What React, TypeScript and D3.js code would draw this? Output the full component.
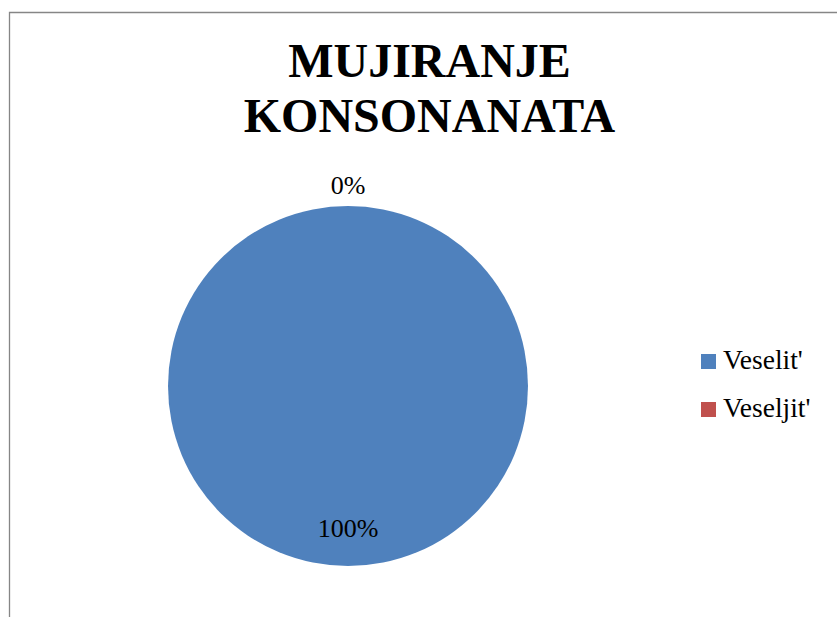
import React from "react";
import * as d3 from "d3";

const categories = ["Veselit'", "Veseljit'"];
const values = [100, 0];
const percentLabels = ["100%", "0%"];
const titleLines = ["MUJIRANJE", "KONSONANATA"];
const colors = ["#4F81BD", "#C0504D"];

export default function App() {
  const W = 837, H = 617;
  const cx = 348, cy = 386, r = 180;
  const pie = d3.pie<number>().sort(null).startAngle(0).endAngle(2 * Math.PI);
  const arcs = pie(values);
  const arcGen = d3.arc<d3.PieArcDatum<number>>().innerRadius(0).outerRadius(r);
  const font = "'Liberation Serif', 'Times New Roman', serif";
  const labelPos = (i: number) => {
    const a = arcs[i];
    const mid = (a.startAngle + a.endAngle) / 2;
    if (a.endAngle - a.startAngle < 1e-6) {
      return [cx + Math.sin(mid) * (r + 21), cy - Math.cos(mid) * (r + 21)];
    }
    return [cx + Math.sin(mid) * (r * 0.79), cy - Math.cos(mid) * (r * 0.79)];
  };
  return (
    <svg width={W} height={H} style={{ position: "absolute", left: 0, top: 0, display: "block" }}>
      <rect x={0} y={0} width={W} height={H} fill="#fff" />
      <path d={`M9.5,${H} L9.5,12.5 L${W},12.5`} fill="none" stroke="#868686" strokeWidth={1.3} />
      {titleLines.map((t, i) => (
        <text key={t} x={429.5} y={77 + i * 55} textAnchor="middle" fontFamily={font}
          fontWeight="bold" fontSize={48} fill="#000">{t}</text>
      ))}
      <g>
        {arcs.map((a, i) => (
          a.endAngle - a.startAngle > 1e-6 ? (
            <path key={i} d={arcGen(a) || ""} transform={`translate(${cx},${cy})`} fill={colors[i]} />
          ) : null
        ))}
      </g>
      {arcs.map((a, i) => {
        const [x, y] = labelPos(i);
        return (
          <text key={"l" + i} x={x} y={y} textAnchor="middle" dominantBaseline="central"
            fontFamily={font} fontSize={26} fill="#000">{percentLabels[i]}</text>
        );
      })}
      {categories.map((c, i) => (
        <g key={c} transform={`translate(701,${354 + i * 48})`}>
          <rect x={0} y={0} width={15} height={15} fill={colors[i]} />
          <text x={22} y={15} fontFamily={font} fontSize={27.5} fill="#000">{c}</text>
        </g>
      ))}
    </svg>
  );
}
